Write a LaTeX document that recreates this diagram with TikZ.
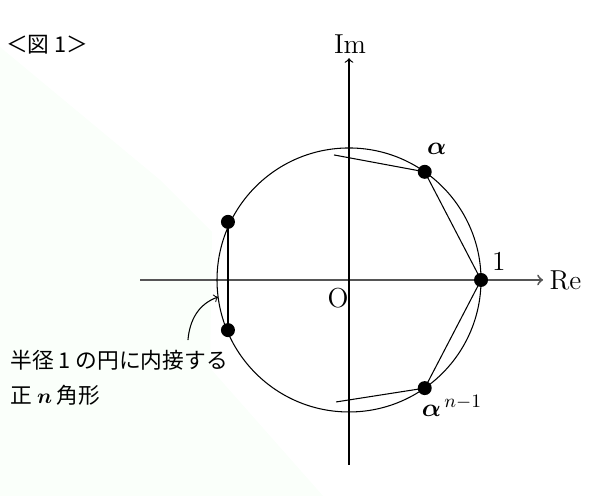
\documentclass[tikz,border=0pt]{standalone}
\usepackage{amsmath}
\usepackage{fontspec}
\newfontfamily\jpfont{Noto Sans CJK JP}
\usetikzlibrary{backgrounds}
\definecolor{pale-tint}{RGB}{250, 255, 250}
\definecolor{axis-grey}{RGB}{85, 85, 85}
\tikzset{
	vtx/.style={circle,fill=black,inner sep=0pt,minimum size=14pt*0.474},
	lbl/.style={inner sep=1pt,font=\fontsize{13}{15}\selectfont},
	jp/.style={inner sep=0pt,anchor=west,font=\jpfont\fontsize{10.3}{12}\selectfont}
}

\begin{document}
\begin{tikzpicture}[scale=2.2]
\useasboundingbox (-2.644,-1.636) rectangle (1.909,2.121);
\fill [pale-tint] (-2.644,1.765) -- (-1.432,0.758) -- (-1.038,0.364) -- (-1.053,-0.667) -- (-0.197,-1.636) -- (-2.644,-1.636) -- cycle;

\coordinate (xl) at (-1.583,0);
\coordinate (xr) at (1.47,0);
\coordinate (yb) at (0,-1.40);
\coordinate (yt) at (0,1.68);
\draw [axis-grey,line width=.9pt,->] (xl) -- (xr);
\draw [line width=.6pt,->] (yb) -- (yt);
\node [lbl,anchor=west] (re) at (1.50,0) {Re};
\node [lbl] (im) at (0.008,1.79) {Im};
\node [lbl] (o) at (-0.083,-0.14) {O};

\draw [line width=.5pt] (0,0) circle (1);

\node [vtx] (v0) at (0:1) {};
\node [vtx] (v1) at (55:1) {};
\node [vtx] (vm) at (-55:1) {};
\node [vtx] (vl1) at (-0.917,0.44) {};
\node [vtx] (vl2) at (-0.917,-0.38) {};
\coordinate (c1) at (-0.114,0.947);
\coordinate (cm) at (-0.098,-0.924);
\draw [line width=.5pt] (c1) -- (v1.center) -- (v0.center) -- (vm.center) -- (cm);
\draw [line width=.6pt] (vl1.center) -- (vl2.center);

\node [lbl] (one) at (1.135,0.14) {1};
\node [lbl] (a1) at (0.665,0.99) {$\boldsymbol{\alpha}$};
\node [lbl] (am) at (0.78,-0.955) {$\boldsymbol{\alpha}^{\,n-1}$};

\node [jp] (fig) at (-2.60,1.78) {＜図 1＞};
\node [jp] (cap1) at (-2.568,-0.606) {半径 1 の円に内接する};
\node [jp] (cap2) at (-2.568,-0.871) {正 $\boldsymbol{n}$ 角形};
\coordinate (arr) at (-1.22,-0.455);
\coordinate (onc) at (-0.992,-0.129);
\draw [line width=.5pt,->] (arr) to [out=85,in=200] (onc);
\end{tikzpicture}
\end{document}
